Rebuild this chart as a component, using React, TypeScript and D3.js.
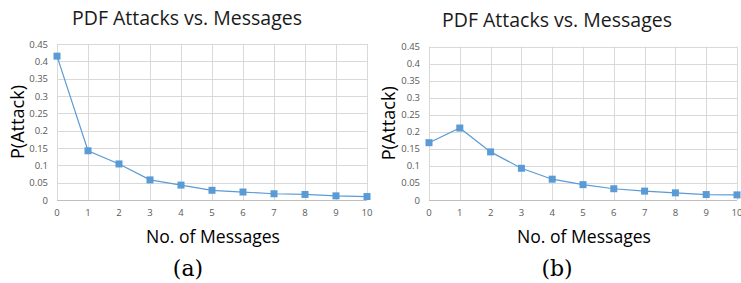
import React, { useEffect, useRef } from "react";
import * as d3 from "d3";

const messages = [0, 1, 2, 3, 4, 5, 6, 7, 8, 9, 10];
const attacksA = [0.415, 0.142, 0.104, 0.058, 0.043, 0.028, 0.023, 0.018, 0.016, 0.012, 0.01];
const attacksB = [0.168, 0.211, 0.141, 0.093, 0.061, 0.045, 0.033, 0.026, 0.021, 0.016, 0.015];
const yTicks = [0, 0.05, 0.1, 0.15, 0.2, 0.25, 0.3, 0.35, 0.4, 0.45];
const titleText = "PDF Attacks vs. Messages";
const xLabel = "No. of Messages";
const yLabel = "P(Attack)";
const captions = ["(a)", "(b)"];

const W = 741;
const H = 283;
const sans = "'Open Sans', 'Liberation Sans', sans-serif";

const panels = [
  { values: attacksA, x0: 57, x1: 367, top: 44, bottom: 200, titleX: 187, titleY: 25, yLabX: 24, capX: 188 },
  { values: attacksB, x0: 429, x1: 737, top: 46.5, bottom: 200, titleX: 557, titleY: 27, yLabX: 395, capX: 557 },
];

export default function App() {
  const svgRef = useRef<SVGSVGElement>(null);

  useEffect(() => {
    const svg = d3.select(svgRef.current);
    svg.selectAll("*").remove();

    panels.forEach((p, i) => {
      const g = svg.append("g");
      const x = d3.scaleLinear().domain([0, 10]).range([p.x0, p.x1]);
      const y = d3.scaleLinear().domain([0, 0.45]).range([p.bottom, p.top]);

      // gridlines
      g.selectAll("line.hg")
        .data(yTicks.slice(1))
        .join("line")
        .attr("x1", p.x0)
        .attr("x2", p.x1)
        .attr("y1", d => Math.round(y(d)) + 0.5)
        .attr("y2", d => Math.round(y(d)) + 0.5)
        .attr("stroke", "#d9d9d9");
      g.selectAll("line.vg")
        .data(messages)
        .join("line")
        .attr("x1", d => Math.round(x(d)) + 0.5)
        .attr("x2", d => Math.round(x(d)) + 0.5)
        .attr("y1", p.top)
        .attr("y2", p.bottom)
        .attr("stroke", "#d9d9d9");
      // baseline
      g.append("line")
        .attr("x1", p.x0)
        .attr("x2", p.x1)
        .attr("y1", Math.round(y(0)) + 0.5)
        .attr("y2", Math.round(y(0)) + 0.5)
        .attr("stroke", "#bfbfbf");

      // tick labels
      g.selectAll("text.yt")
        .data(yTicks)
        .join("text")
        .attr("x", p.x0 - 9)
        .attr("y", d => y(d) + 3.5)
        .attr("text-anchor", "end")
        .attr("font-family", sans)
        .attr("font-size", 9.5)
        .attr("fill", "#595959")
        .text(d => String(d));
      g.selectAll("text.xt")
        .data(messages)
        .join("text")
        .attr("x", d => x(d))
        .attr("y", p.bottom + 16)
        .attr("text-anchor", "middle")
        .attr("font-family", sans)
        .attr("font-size", 9.5)
        .attr("fill", "#595959")
        .text(d => String(d));

      // series
      const line = d3
        .line<number>()
        .x((_, j) => x(messages[j]))
        .y(d => y(d));
      g.append("path")
        .datum(p.values)
        .attr("d", line)
        .attr("fill", "none")
        .attr("stroke", "#5b9bd5")
        .attr("stroke-width", 1.2);
      g.selectAll("rect.mk")
        .data(p.values)
        .join("rect")
        .attr("x", (_, j) => x(messages[j]) - 3.5)
        .attr("y", d => y(d) - 3.5)
        .attr("width", 7)
        .attr("height", 7)
        .attr("fill", "#5b9bd5");

      // titles & labels
      g.append("text")
        .attr("x", p.titleX)
        .attr("y", p.titleY)
        .attr("text-anchor", "middle")
        .attr("font-family", sans)
        .attr("font-size", 19.5)
        .attr("fill", "#1a1a1a")
        .text(titleText);
      g.append("text")
        .attr("transform", `translate(${p.yLabX},${(p.top + p.bottom) / 2}) rotate(-90)`)
        .attr("text-anchor", "middle")
        .attr("font-family", sans)
        .attr("font-size", 19)
        .attr("textLength", 74)
        .attr("lengthAdjust", "spacingAndGlyphs")
        .attr("fill", "#000")
        .text(yLabel);
      g.append("text")
        .attr("x", (p.x0 + p.x1) / 2 + 1)
        .attr("y", 243)
        .attr("text-anchor", "middle")
        .attr("font-family", sans)
        .attr("font-size", 19)
        .attr("textLength", 134)
        .attr("lengthAdjust", "spacingAndGlyphs")
        .attr("fill", "#000")
        .text(xLabel);
      g.append("text")
        .attr("x", p.capX)
        .attr("y", 276)
        .attr("text-anchor", "middle")
        .attr("font-family", "'DejaVu Serif', 'Liberation Serif', serif")
        .attr("font-size", 22)
        .attr("fill", "#000")
        .text(captions[i]);
    });
  }, []);

  return (
    <svg
      ref={svgRef}
      width={W}
      height={H}
      style={{ position: "absolute", left: 0, top: 0, background: "#fff" }}
    />
  );
}
